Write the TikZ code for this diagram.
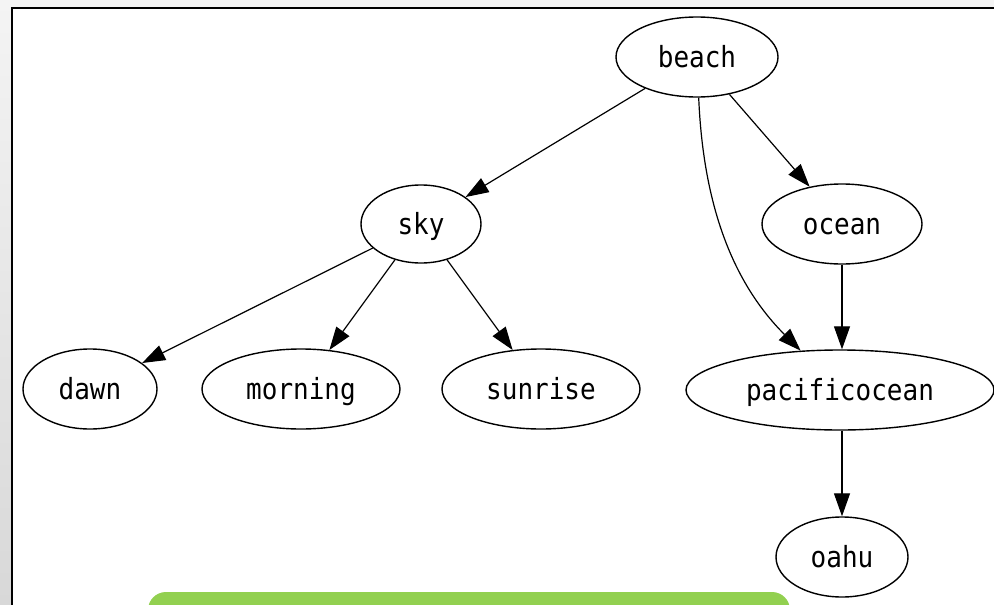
\documentclass[tikz,border=0pt]{standalone}
\usepackage{fontspec}
\setmonofont{DejaVu Sans Mono}
\usetikzlibrary{arrows.meta,shapes.geometric}
\definecolor{panelgreen}{RGB}{146,208,80}
\definecolor{chrometop}{RGB}{244,244,244}
\definecolor{chromelow}{RGB}{216,216,216}
\newcommand{\tallword}[1]{\scalebox{1}[1.12]{#1}}
\begin{document}
\begin{tikzpicture}[x=1pt,y=-1pt,
  vertex/.style={ellipse, draw, line width=1.4pt, inner sep=0pt,
    text height=22pt, text depth=2pt,
    minimum height=80pt, font=\ttfamily\fontsize{26}{26}\selectfont},
  link/.style={line width=1.2pt, -{Triangle[length=23pt,width=16pt]}}]
\useasboundingbox (0,0) rectangle (994,605);
\clip (0,0) rectangle (994,605);
% window chrome and frame
\fill[chrometop] (0,0) rectangle (994,8);
\shade[top color=chrometop, bottom color=chromelow] (0,0) rectangle (12,605);
\fill[white] (12,8) rectangle (994,605);
\draw[line width=2.5pt] (12.2,605) -- (12.2,8.2) -- (994,8.2);

% graph nodes
\node[vertex, minimum width=162pt] (beach) at (697,57) {\tallword{beach}};
\node[vertex, minimum width=120pt, minimum height=78pt] (sky) at (421,224) {\tallword{sky}};
\node[vertex, minimum width=160pt] (ocean) at (842,224) {\tallword{ocean}};
\node[vertex, minimum width=134pt] (dawn) at (90,389) {\tallword{dawn}};
\node[vertex, minimum width=198pt] (morning) at (301,389) {\tallword{morning}};
\node[vertex, minimum width=198pt] (sunrise) at (541,389) {\tallword{sunrise}};
\node[vertex, minimum width=308pt] (pacific) at (840,390) {\tallword{pacificocean}};
\node[vertex, minimum width=132pt] (oahu) at (842,557) {\tallword{oahu}};

% edges
\draw[link] (beach) -- (sky);
\draw[link] (beach) -- (ocean);
\draw[link] (beach) .. controls (703,200) and (730,280) .. (pacific);
\draw[link] (ocean) -- (pacific.north -| ocean);
\draw[link] (sky) -- (dawn);
\draw[link] (sky) -- (morning);
\draw[link] (sky) -- (sunrise);
\draw[link] (pacific.south -| oahu) -- (oahu);

% green panel along the bottom
\fill[panelgreen, rounded corners=18pt] (148,592) rectangle (790,640);
\end{tikzpicture}
\end{document}
